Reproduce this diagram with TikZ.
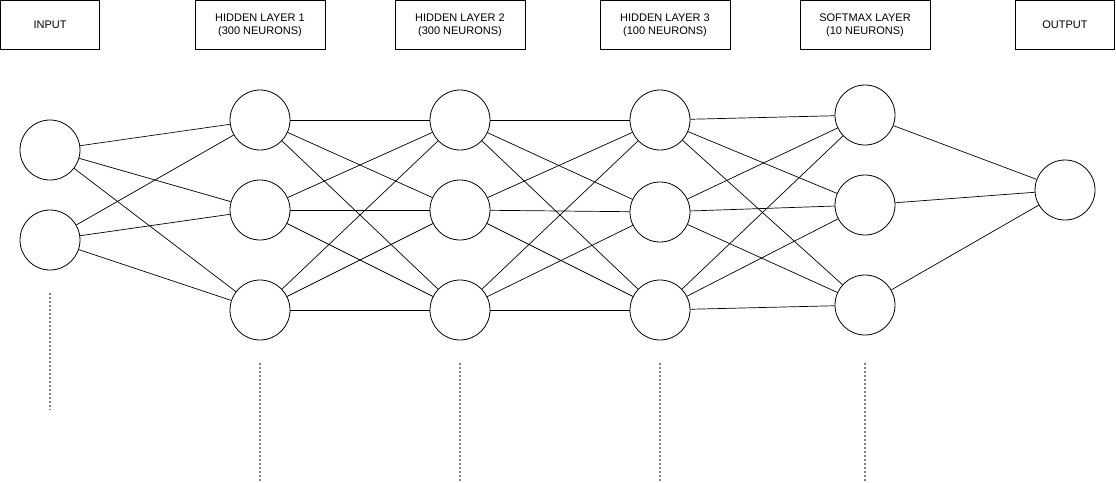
\documentclass[tikz,border=0pt]{standalone}
\usepackage{fontspec}
\setmainfont{Liberation Sans}
\usepackage{tikz}
\tikzset{x=1pt,y=-1pt,
 neuron/.style={circle,draw,line width=0.8pt,minimum size=60pt,inner sep=0pt},
 layerbox/.style={draw,line width=0.8pt,minimum height=49pt,align=center,
   font=\fontsize{11}{13}\selectfont,inner sep=0pt},
 link/.style={draw,line width=0.7pt},
 gap/.style={draw=gray,dashed,dash pattern=on 2pt off 2pt,line width=1.2pt},
 }

\begin{document}
\begin{tikzpicture}
        \useasboundingbox (0,0) rectangle (1116,482);
        % titles
        \node[layerbox,minimum width=99pt] (tin) at (50,25) {INPUT};
        \node[layerbox,minimum width=130pt] (th1) at (260,25) {HIDDEN LAYER 1\\ (300 NEURONS)};
        \node[layerbox,minimum width=130pt] (th2) at (460,25) {HIDDEN LAYER 2\\ (300 NEURONS)};
        \node[layerbox,minimum width=130pt] (th3) at (665,25) {HIDDEN LAYER 3\\ (100 NEURONS)};
        \node[layerbox,minimum width=130pt] (tsm) at (865,25) {SOFTMAX LAYER\\ (10 NEURONS)};
        \node[layerbox,minimum width=99pt] (tout) at (1065,25) {OUTPUT};
        % neurons
        \node[neuron] (i1) at (50,150) {};
        \node[neuron] (i2) at (50,240) {};
        \node[neuron] (a1) at (260,120) {};
        \node[neuron] (a2) at (260,210) {};
        \node[neuron] (a3) at (260,310) {};
        \node[neuron] (b1) at (460,120) {};
        \node[neuron] (b2) at (460,210) {};
        \node[neuron] (b3) at (460,310) {};
        \node[neuron] (c1) at (660,120) {};
        \node[neuron] (c2) at (660,212) {};
        \node[neuron] (c3) at (660,310) {};
        \node[neuron] (s1) at (865,115) {};
        \node[neuron] (s2) at (865,205) {};
        \node[neuron] (s3) at (865,305) {};
        \node[neuron] (o) at (1065,190) {};
        % weights
        \foreach \u in {i1,i2}
            \foreach \v in {a1,a2,a3}
                \path[link] (\u) -- (\v);
        \foreach \u/\w in {a/b,b/c,c/s}
            \foreach \p in {1,2,3}
                \foreach \q in {1,2,3}
                    \path[link] (\u\p) -- (\w\q);
        \foreach \v in {s1,s2,s3}
            \path[link] (\v) -- (o);
        % more neurons
        \coordinate (di) at (50,293);
        \coordinate (di') at (50,410);
        \coordinate (da) at (260,363);
        \coordinate (da') at (260,482);
        \coordinate (db) at (460,363);
        \coordinate (db') at (460,482);
        \coordinate (dc) at (660,363);
        \coordinate (dc') at (660,482);
        \coordinate (ds) at (865,363);
        \coordinate (ds') at (865,482);
        \foreach \d in {di,da,db,dc,ds}
            \path[gap] (\d) -- (\d');
    \end{tikzpicture}
\end{document}
